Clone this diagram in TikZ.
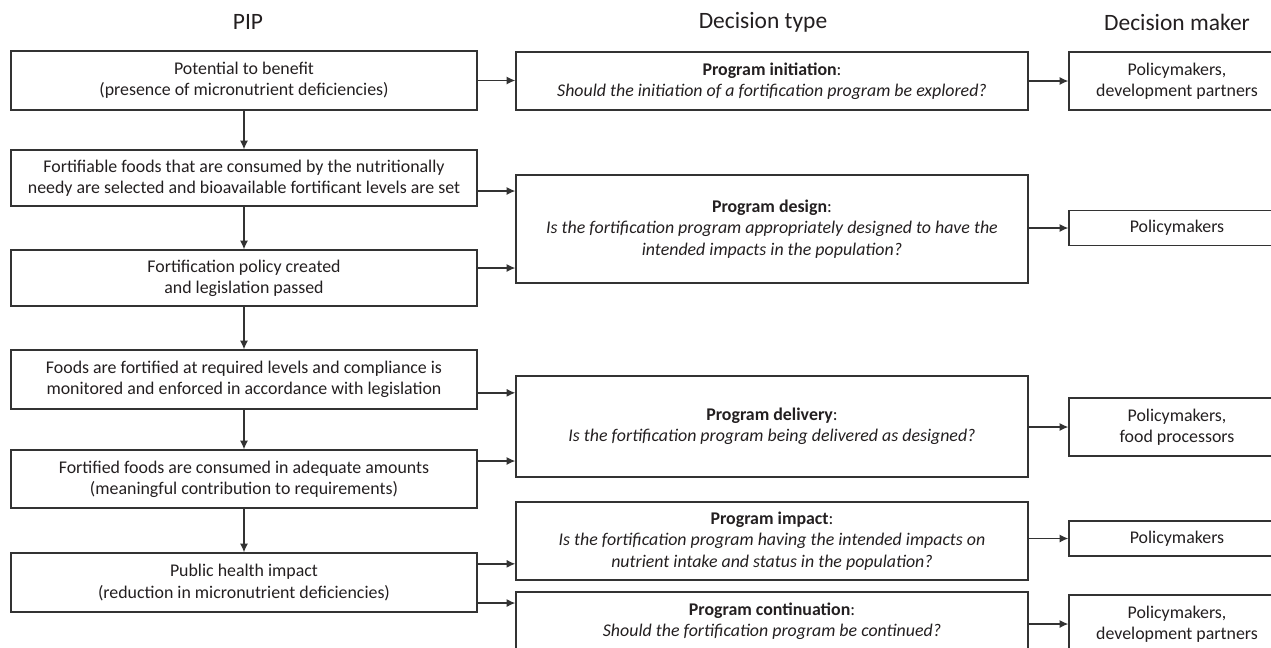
\documentclass[tikz,border=0pt]{standalone}
\usepackage{fontspec}
\setmainfont{Carlito}
\usepackage{xcolor}
\usetikzlibrary{arrows.meta, calc}

\definecolor{boxline}{HTML}{333333}
\definecolor{boxtext}{HTML}{231F20}

\begin{document}
\begin{tikzpicture}[
    x=0.75pt, y=-0.75pt,
    font=\fontsize{13.4}{16}\selectfont,
    text=boxtext,
    head/.style = {font=\fontsize{17.6}{20}\selectfont},
    pipbox/.style = {rectangle, draw=boxline, line width=1pt, minimum width=349.5pt, inner sep=0pt, align=center},
    typebox/.style = {rectangle, draw=boxline, line width=1pt, minimum width=384pt, inner sep=0pt, align=center},
    makerbox/.style = {rectangle, draw=boxline, line width=1pt, minimum width=162pt, inner sep=0pt, align=center},
    arrow/.style = {draw=boxline, line width=1pt, -{Latex[length=6.5pt,width=6pt]}}
]
\useasboundingbox (0,0) rectangle (1271,647);

% Column headings
\node (hpip) [head] at (248,22) {PIP};
\node (htype) [head] at (763,22) {Decision type};
\node (hmaker) [head] at (1177,22) {Decision maker};

% PIP column
\node (pot) [pipbox, minimum height=44.25pt] at (244,80.5) {Potential to benefit\\(presence of micronutrient deficiencies)};
\node (sel) [pipbox, minimum height=42pt] at (244,178) {Fortifiable foods that are consumed by the nutritionally\\needy are selected and bioavailable fortificant levels are set};
\node (pol) [pipbox, minimum height=42pt] at (244,278) {Fortification policy created\\and legislation passed};
\node (fort) [pipbox, minimum height=44.25pt] at (244,379.5) {Foods are fortified at required levels and compliance is\\monitored and enforced in accordance with legislation};
\node (cons) [pipbox, minimum height=43.5pt] at (244,479) {Fortified foods are consumed in adequate amounts\\(meaningful contribution to requirements)};
\node (pub) [pipbox, minimum height=44.25pt] at (244,582.5) {Public health impact\\(reduction in micronutrient deficiencies)};

% Decision type column
\node (init) [typebox, minimum height=43.5pt] at (772,81) {\textbf{Program initiation}:\\\textit{Should the initiation of a fortification program be explored?}};
\node (design) [typebox, minimum height=81pt] at (772,229) {\textbf{Program design}:\\\textit{Is the fortification program appropriately designed to have the}\\\textit{intended impacts in the population?}};
\node (deliv) [typebox, minimum height=75.75pt] at (772,426.5) {\textbf{Program delivery}:\\\textit{Is the fortification program being delivered as designed?}};
\node (impact) [typebox, minimum height=58.5pt] at (772,541) {\textbf{Program impact}:\\\textit{Is the fortification program having the intended impacts on}\\\textit{nutrient intake and status in the population?}};
\node (cont) [typebox, minimum height=43.5pt] at (772,621) {\textbf{Program continuation}:\\\textit{Should the fortification program be continued?}};

% Decision maker column
\node (dm1) [makerbox, minimum height=43.5pt] at (1177,81) {Policymakers,\\development partners};
\node (dm2) [makerbox, minimum height=26.25pt] at (1177,228) {Policymakers};
\node (dm3) [makerbox, minimum height=43.5pt] at (1177,427) {Policymakers,\\food processors};
\node (dm4) [makerbox, minimum height=26.25pt] at (1177,538.5) {Policymakers};
\node (dm5) [makerbox, minimum height=43.5pt] at (1177,624) {Policymakers,\\development partners};

% PIP chain
\draw [arrow] (pot) -- (sel);
\draw [arrow] (sel) -- (pol);
\draw [arrow] (pol) -- (fort);
\draw [arrow] (fort) -- (cons);
\draw [arrow] (cons) -- (pub);

% PIP to decision type
\draw [arrow] (pot.east) -- (pot.east -| init.west);
\draw [arrow] ([yshift=-9.75pt]sel.east) -- ([yshift=-9.75pt]sel.east -| design.west);
\draw [arrow] ([yshift=7.5pt]pol.east) -- ([yshift=7.5pt]pol.east -| design.west);
\draw [arrow] ([yshift=-10pt]fort.east) -- ([yshift=-10pt]fort.east -| deliv.west);
\draw [arrow] ([yshift=13.5pt]cons.east) -- ([yshift=13.5pt]cons.east -| deliv.west);
\draw [arrow] ([yshift=14pt]pub.east) -- ([yshift=14pt]pub.east -| impact.west);
\draw [arrow] ([yshift=-15.4pt]pub.east) -- ([yshift=-15.4pt]pub.east -| cont.west);

% Decision type to decision maker
\draw [arrow] (init.east |- dm1.west) -- (dm1.west);
\draw [arrow] (design.east |- dm2.west) -- (dm2.west);
\draw [arrow] (deliv.east |- dm3.west) -- (dm3.west);
\draw [arrow] (impact.east |- dm4.west) -- (dm4.west);
\draw [arrow] (cont.east |- dm5.west) -- (dm5.west);

\end{tikzpicture}
\end{document}
